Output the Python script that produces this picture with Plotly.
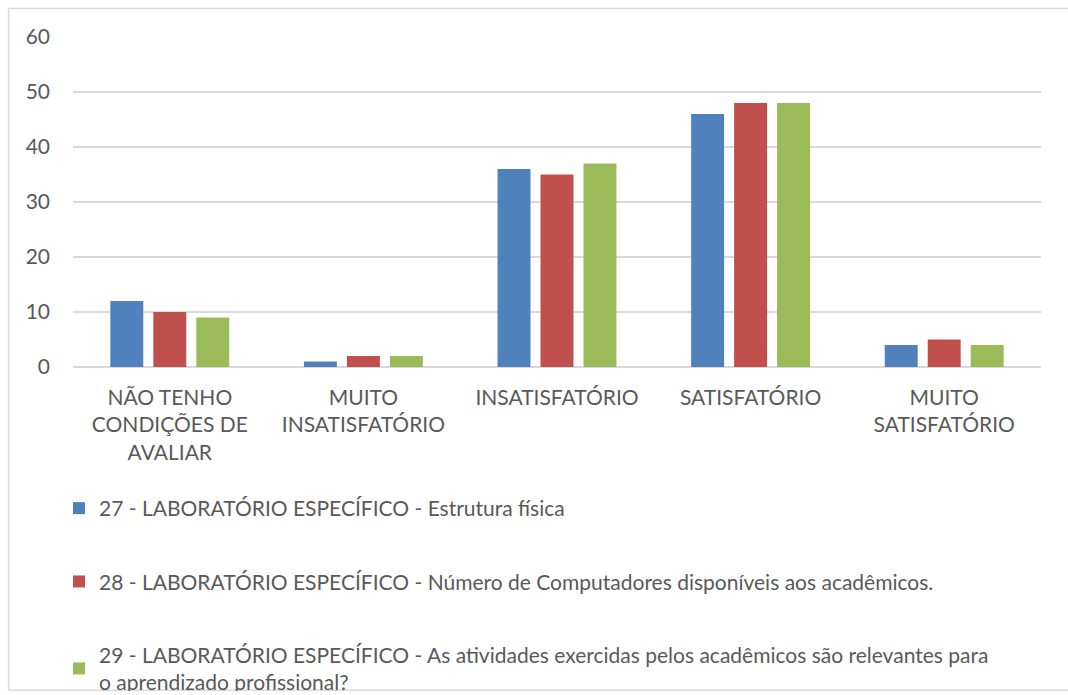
import plotly.graph_objects as go

categories = ["NÃO TENHO<br>CONDIÇÕES DE<br>AVALIAR", "MUITO<br>INSATISFATÓRIO", "INSATISFATÓRIO", "SATISFATÓRIO", "MUITO<br>SATISFATÓRIO"]
series_names = [
    "27 - LABORATÓRIO ESPECÍFICO - Estrutura física",
    "28 - LABORATÓRIO ESPECÍFICO - Número de Computadores disponíveis aos acadêmicos.",
    "29 - LABORATÓRIO ESPECÍFICO - As atividades exercidas pelos acadêmicos são relevantes para<br>o aprendizado profissional?",
]
s27 = [12, 1, 36, 46, 4]
s28 = [10, 2, 35, 48, 5]
s29 = [9, 2, 37, 48, 4]
y_ticks = [0, 10, 20, 30, 40, 50, 60]

colors = ["#4f81bd", "#c0504d", "#9bbb59"]
FONT = "Lato"
TXT = "#595959"
FS = 21

W, H = 1068, 691
L, R, T, B = 73, W - 1041, 37, H - 367

fig = go.Figure()
for i, (name, vals) in enumerate(zip(series_names, [s27, s28, s29])):
    fig.add_trace(go.Bar(x=categories, y=vals, name=name, marker_color=colors[i],
                         marker_line_width=0, legendgroup=f"g{i}"))

def px_x(X):  # page x -> paper
    return (X - L) / (W - L - R)

def px_y(Y):  # page y -> paper
    return (367 - Y) / (367 - T)

fig.add_shape(type="path", xref="paper", yref="paper",
              path=f"M {px_x(1080)},{px_y(8.6)} L {px_x(8.6)},{px_y(8.6)} L {px_x(8.6)},{px_y(690.2)} L {px_x(1080)},{px_y(690.2)}",
              line=dict(color="#d9d9d9", width=1.5))

fig.update_layout(
    width=W, height=H,
    margin=dict(l=L, r=R, t=T, b=B, autoexpand=False),
    paper_bgcolor="white", plot_bgcolor="white",
    barmode="group", bargap=0.334, bargroupgap=0.233,
    font=dict(family=FONT, color=TXT, size=FS),
    showlegend=True,
    legend=dict(x=px_x(59), y=px_y(488), xanchor="left", yanchor="top",
                orientation="v", traceorder="grouped", tracegroupgap=43,
                font=dict(family=FONT, size=FS, color=TXT),
                bgcolor="rgba(0,0,0,0)", itemclick=False),
)
fig.update_xaxes(showgrid=False, showline=False, ticks="", ticklabelstandoff=16,
                 tickfont=dict(family=FONT, size=FS, color=TXT))
fig.update_yaxes(range=[0, 60], tickvals=y_ticks, showgrid=True, gridcolor="#d9d9d9",
                 gridwidth=1.5, zeroline=True, zerolinecolor="#d9d9d9", zerolinewidth=1.5,
                 showline=False, ticks="", ticklabelstandoff=22,
                 tickfont=dict(family=FONT, size=FS, color=TXT))

fig.write_html("out.html", config={"displayModeBar": False},
               post_script="document.body.style.margin='0px';document.documentElement.style.overflow='hidden';")
